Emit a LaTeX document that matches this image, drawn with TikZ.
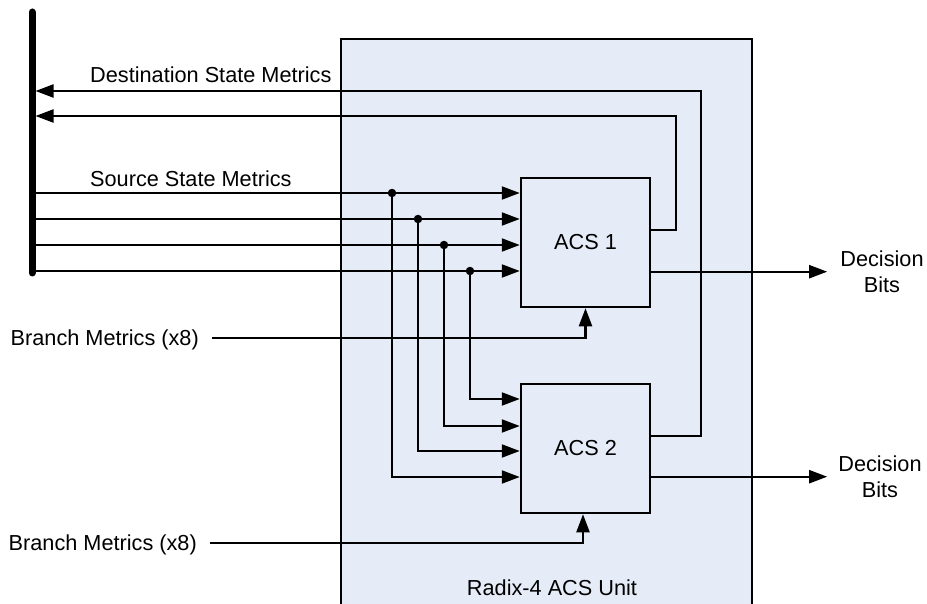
\documentclass[tikz,border=0pt]{standalone}
\usepackage{fontspec}
\setmainfont{Liberation Sans}
\usetikzlibrary{arrows.meta}
\definecolor{unitfill}{RGB}{230,236,247}
\begin{document}
\begin{tikzpicture}[x=1pt,y=-1pt,
  wire/.style={line width=2.2pt},
  arr/.style={wire,-{Triangle[length=18pt,width=13pt]}},
  acsbox/.style={draw,line width=2.5pt,fill=unitfill,minimum width=129pt,
    minimum height=129pt,inner sep=0pt,font=\fontsize{21.7pt}{26pt}\selectfont},
  lbl/.style={inner sep=0pt,font=\fontsize{21.7pt}{26pt}\selectfont,
    text height=15.5pt,text depth=0pt},
  outlbl/.style={inner sep=0pt,align=center,font=\fontsize{21.7pt}{26pt}\selectfont},
  tap/.style={fill,circle,inner sep=0pt,minimum size=8.5pt}]
\useasboundingbox (0,0) rectangle (927,604);

% enclosing unit (open at the bottom)
\fill[unitfill] (341,39) rectangle (752,604);
\draw[line width=2pt] (341,604) -- (341,39) -- (752,39) -- (752,604);

% state metric bus
\coordinate (btop) at (32,12);
\coordinate (bbot) at (32,273);
\draw[line width=7pt,line cap=round] (btop) -- (bbot);
\coordinate (d1) at (35.5,91);
\coordinate (d2) at (35.5,116);
\coordinate (s1) at (32,193);
\coordinate (s2) at (32,219);
\coordinate (s3) at (32,245);
\coordinate (s4) at (32,271);

% ACS blocks
\node[acsbox] (acs1) at (585.5,242.5) {ACS 1};
\node[acsbox] (acs2) at (585.5,448.5) {ACS 2};

% labels
\node[lbl,anchor=west] (dsm) at (90,75) {Destination State Metrics};
\node[lbl,anchor=west] (ssm) at (90,179) {Source State Metrics};
\node[lbl,anchor=east] (bm1) at (199,338) {Branch Metrics (x8)};
\node[lbl,anchor=east] (bm2) at (197,543) {Branch Metrics (x8)};
\node[outlbl] (db1) at (882,271.7) {Decision\\Bits};
\node[outlbl] (db2) at (880,476.7) {Decision\\Bits};
\node[lbl] (unitname) at (552,588) {Radix-4 ACS Unit};

% source state metrics into ACS 1
\foreach \s in {s1,s2,s3,s4}
  \draw[arr] (\s) -- (\s -| acs1.west);

% taps feeding ACS 2
\coordinate (j1) at (392,193);
\coordinate (j2) at (418,219);
\coordinate (j3) at (444,245);
\coordinate (j4) at (470,271);
\draw[arr] (j1) |- (acs2.west |- 0,477);
\draw[arr] (j2) |- (acs2.west |- 0,451);
\draw[arr] (j3) |- (acs2.west |- 0,426);
\draw[arr] (j4) |- (acs2.west |- 0,399);
\foreach \j in {j1,j2,j3,j4}
  \node[tap] at (\j) {};

% destination state metrics back to the bus
\draw[arr] (acs2.east |- 0,436) -| (701,91) -- (d1);
\draw[arr] (acs1.east |- 0,230) -| (676,116) -- (d2);

% branch metrics
\draw[arr] ([xshift=13pt]bm1.east) -| (acs1.south);
\draw[arr] ([xshift=13pt]bm2.east) -| ([xshift=-2.5pt]acs2.south);

% decision bits
\draw[arr] (acs1.east |- 0,271.7) -- ([xshift=-13pt]db1.west);
\draw[arr] (acs2.east |- 0,476.7) -- ([xshift=-11pt]db2.west);
\end{tikzpicture}
\end{document}
